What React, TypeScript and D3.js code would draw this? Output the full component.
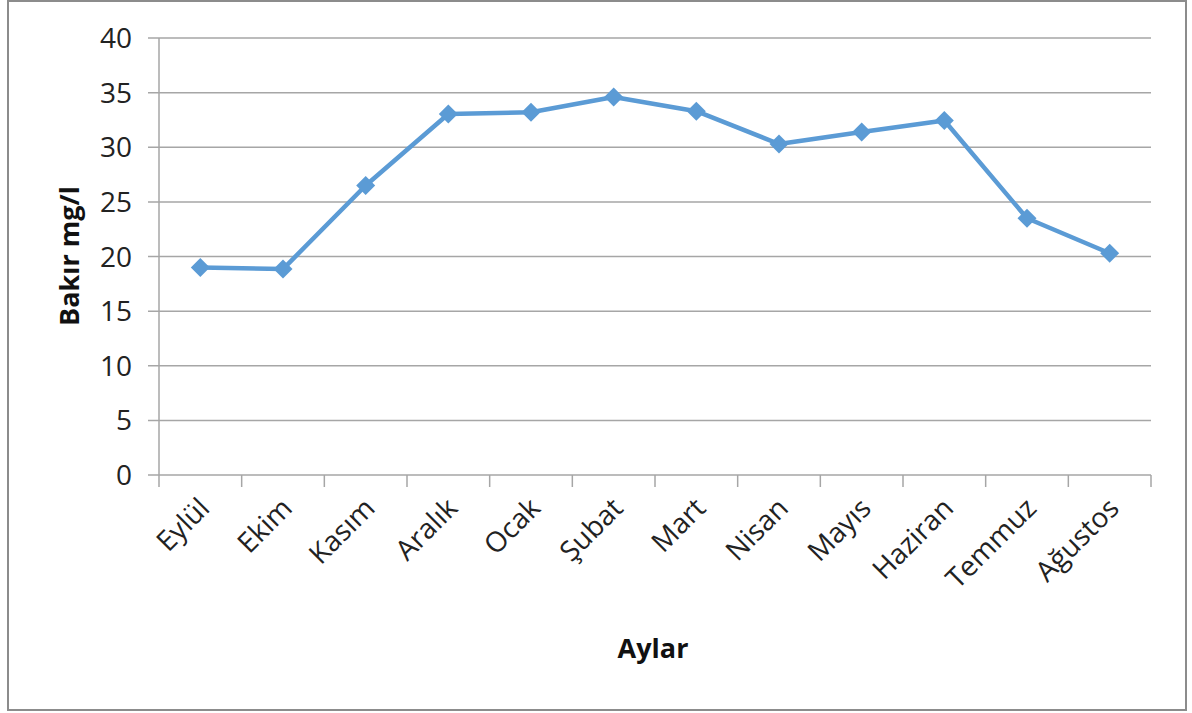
import { useEffect, useRef } from 'react';
import * as d3 from 'd3';

const months = ['Eylül', 'Ekim', 'Kasım', 'Aralık', 'Ocak', 'Şubat', 'Mart', 'Nisan', 'Mayıs', 'Haziran', 'Temmuz', 'Ağustos'];
const copper = [19.0, 18.85, 26.5, 33.05, 33.2, 34.6, 33.3, 30.3, 31.4, 32.45, 23.5, 20.3];
const yTicks = [0, 5, 10, 15, 20, 25, 30, 35, 40];

const W = 1192;
const H = 713;
const FONT = '"Open Sans", sans-serif';

export default function App() {
  const ref = useRef<SVGSVGElement | null>(null);

  useEffect(() => {
    if (!ref.current) return;
    const svg = d3.select(ref.current);
    svg.selectAll('*').remove();

    const margin = { top: 38, left: 159, right: 41, bottom: 238 };
    const innerW = W - margin.left - margin.right;
    const innerH = H - margin.top - margin.bottom;

    // outer frame
    svg.append('rect')
      .attr('x', 8).attr('y', 1)
      .attr('width', 1178).attr('height', 709)
      .attr('fill', '#fff')
      .attr('stroke', '#8c8c8c')
      .attr('stroke-width', 2);

    const x = d3.scaleBand().domain(months).range([0, innerW]);
    const y = d3.scaleLinear().domain([0, 40]).range([innerH, 0]);

    const g = svg.append('g').attr('transform', `translate(${margin.left},${margin.top})`);

    // grid + y ticks
    g.selectAll('.grid')
      .data(yTicks)
      .join('line')
      .attr('x1', -11).attr('x2', innerW)
      .attr('y1', (d) => y(d)).attr('y2', (d) => y(d))
      .attr('stroke', '#a6a6a6')
      .attr('stroke-width', 1.5);

    g.selectAll('.ylab')
      .data(yTicks)
      .join('text')
      .attr('x', -27)
      .attr('y', (d) => y(d))
      .attr('dy', '0.36em')
      .attr('text-anchor', 'end')
      .style('font-family', FONT)
      .style('font-size', '28px')
      .attr('fill', '#222')
      .text((d) => d);

    // y axis line
    g.append('line')
      .attr('x1', 0).attr('x2', 0)
      .attr('y1', 0).attr('y2', innerH)
      .attr('stroke', '#a6a6a6').attr('stroke-width', 1.5);

    // x tick marks at band boundaries
    const bounds = months.map((m) => x(m) || 0).concat([innerW]);
    g.selectAll('.xtick')
      .data(bounds)
      .join('line')
      .attr('x1', (d) => d).attr('x2', (d) => d)
      .attr('y1', innerH).attr('y2', innerH + 12)
      .attr('stroke', '#a6a6a6').attr('stroke-width', 1.5);

    // x labels
    g.selectAll('.xlab')
      .data(months)
      .join('text')
      .attr('transform', (d) => `translate(${(x(d) || 0) + x.bandwidth() / 2 + 4},${innerH + 28}) rotate(-45)`)
      .attr('text-anchor', 'end')
      .attr('dy', '0.35em')
      .style('font-family', FONT)
      .style('font-size', '28px')
      .attr('fill', '#222')
      .text((d) => d);

    const cx = (d: string) => (x(d) || 0) + x.bandwidth() / 2;

    const line = d3.line<number>()
      .x((_, i) => cx(months[i]))
      .y((d) => y(d));

    g.append('path')
      .datum(copper)
      .attr('d', line)
      .attr('fill', 'none')
      .attr('stroke', '#5b9bd5')
      .attr('stroke-width', 4.5)
      .attr('stroke-linejoin', 'round');

    g.selectAll('.mark')
      .data(copper)
      .join('path')
      .attr('d', d3.symbol(d3.symbolDiamond2, 230))
      .attr('transform', (d, i) => `translate(${cx(months[i])},${y(d)})`)
      .attr('fill', '#5b9bd5');

    // axis titles
    svg.append('text')
      .attr('transform', `translate(79,256) rotate(-90)`)
      .attr('text-anchor', 'middle')
      .style('font-family', FONT)
      .style('font-size', '27px')
      .style('font-weight', 'bold')
      .attr('fill', '#111')
      .text('Bakır mg/l');

    svg.append('text')
      .attr('x', 653).attr('y', 658)
      .attr('text-anchor', 'middle')
      .style('font-family', FONT)
      .style('font-size', '27px')
      .style('font-weight', 'bold')
      .attr('fill', '#111')
      .text('Aylar');
  }, []);

  return (
    <div style={{ position: 'absolute', left: 0, top: 0 }}>
      <svg ref={ref} width={W} height={H} style={{ display: 'block' }} />
    </div>
  );
}
